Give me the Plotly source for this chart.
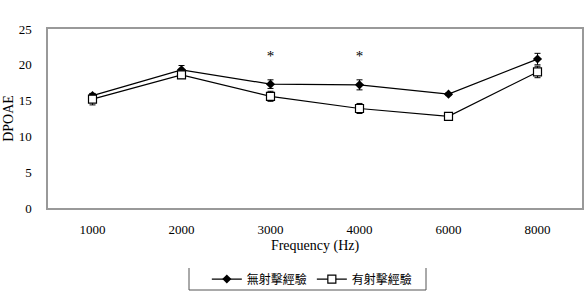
import plotly.graph_objects as go

freqs = ["1000", "2000", "3000", "4000", "6000", "8000"]
no_exp = [15.7, 19.3, 17.3, 17.2, 15.9, 20.8]
no_exp_err = [0.3, 0.6, 0.6, 0.7, 0.2, 0.8]
yes_exp = [15.2, 18.6, 15.6, 13.9, 12.8, 19.0]
yes_exp_err = [0.8, 0.5, 0.7, 0.7, 0.4, 0.8]
star_freqs = ["3000", "4000"]
star_y = [21.1, 21.1]
name_no = "無射擊經驗"
name_yes = "有射擊經驗"

serif = "'Liberation Serif', 'Times New Roman', serif"
cjk = "'Noto Sans CJK TC', serif"

fig = go.Figure()
fig.add_trace(go.Scatter(
    x=freqs, y=no_exp, name=name_no, mode="lines+markers",
    line=dict(color="black", width=1.2),
    marker=dict(symbol="diamond", size=7, color="black"),
    error_y=dict(type="data", array=no_exp_err, color="black", thickness=1, width=3),
))
fig.add_trace(go.Scatter(
    x=freqs, y=yes_exp, name=name_yes, mode="lines+markers",
    line=dict(color="black", width=1.2),
    marker=dict(symbol="square", size=8, color="white", line=dict(color="black", width=1.2)),
    error_y=dict(type="data", array=yes_exp_err, color="black", thickness=1, width=3),
))
fig.add_trace(go.Scatter(
    x=star_freqs, y=star_y, mode="text", text=["*", "*"], showlegend=False,
    textfont=dict(family=serif, size=15, color="black"),
))

fig.update_layout(
    width=585, height=302,
    margin=dict(l=48, r=3, t=29, b=94, autoexpand=False),
    paper_bgcolor="white", plot_bgcolor="white",
    font=dict(family=serif, size=13, color="black"),
    showlegend=True,
    legend=dict(orientation="h", x=0.495, xanchor="center", y=-0.397, yanchor="middle",
                font=dict(family=cjk, size=12, color="black"), bgcolor="rgba(0,0,0,0)",
                tracegroupgap=0),
    xaxis=dict(type="category", range=[-0.5, 5.5], showgrid=False,
               ticks="outside", ticklen=9, tickcolor="rgba(0,0,0,0)", automargin=False,
               showline=True, linecolor="#999", mirror=True, linewidth=1.5,
               title=dict(text="Frequency (Hz)", font=dict(family=serif, size=14), standoff=4),
               tickfont=dict(family=serif, size=13, color="black")),
    yaxis=dict(range=[0, 25], dtick=5, showgrid=False, zeroline=False,
               ticks="outside", ticklen=12, tickcolor="rgba(0,0,0,0)", automargin=False,
               showline=True, linecolor="#999", mirror=True, linewidth=1.5,
               title=dict(text="DPOAE", font=dict(family=serif, size=14), standoff=2),
               tickfont=dict(family=serif, size=13, color="black")),
    shapes=[
        dict(type="line", xref="paper", yref="paper", x0=(189-48)/534, x1=(189-48)/534,
             y0=-(268-208)/179, y1=-(290-208)/179, line=dict(color="#555", width=1)),
        dict(type="line", xref="paper", yref="paper", x0=(426-48)/534, x1=(426-48)/534,
             y0=-(268-208)/179, y1=-(290-208)/179, line=dict(color="#555", width=1)),
        dict(type="line", xref="paper", yref="paper", x0=(189-48)/534, x1=(426-48)/534,
             y0=-(290-208)/179, y1=-(290-208)/179, line=dict(color="#555", width=1)),
    ],
)

fig.write_html("out.html")
